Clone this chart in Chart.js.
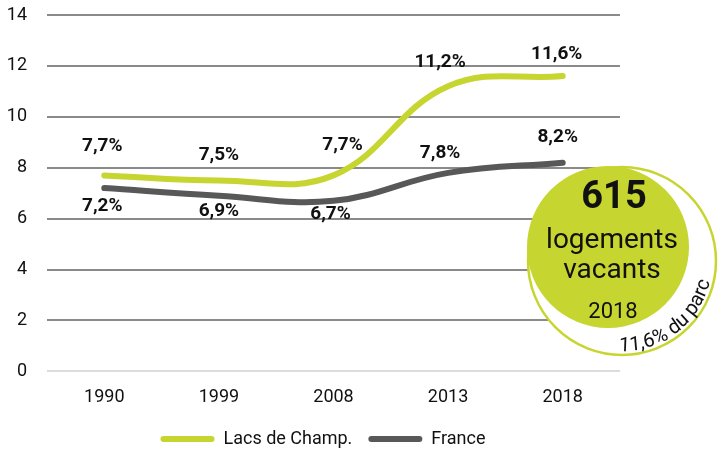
<!DOCTYPE html>
<html>
<head>
<meta charset="utf-8">
<script src="https://cdn.jsdelivr.net/npm/chart.js@4/dist/chart.umd.min.js"></script>
<style>
  html, body { margin: 0; padding: 0; background: #fff; }
  #wrap { width: 718px; height: 450px; }
</style>
</head>
<body>
<div id="wrap"><canvas id="chart"></canvas></div>
<script>
const years = ['1990', '1999', '2008', '2013', '2018'];
const lacsValues = [7.7, 7.5, 7.7, 11.2, 11.6];
const franceValues = [7.2, 6.9, 6.7, 7.8, 8.2];
const yTicks = [0, 2, 4, 6, 8, 10, 12, 14];

const GREEN = '#c6d52f';
const GREY = '#585858';
const FONT = 'Roboto';

// label offsets (px) relative to the point, negative = above
const lacsLabelDy = [-29, -25, -30, -24, -22];
const lacsLabelDx = [-2, 0, 9, -8, -6];
const franceLabelDy = [18, 16, 13, -20, -25];
const franceLabelDx = [-2, 0, -3, -8, -5];

const fmt = v => v.toFixed(1).replace('.', ',') + '%';

const labelsPlugin = {
    id: 'valueLabels',
    afterDatasetsDraw(chart) {
        const ctx = chart.ctx;
        ctx.save();
        ctx.font = 'bold 19px ' + FONT;
        ctx.fillStyle = '#111';
        ctx.textAlign = 'center';
        ctx.textBaseline = 'middle';
        const offs = [[lacsLabelDx, lacsLabelDy], [franceLabelDx, franceLabelDy]];
        chart.data.datasets.forEach((ds, i) => {
            const meta = chart.getDatasetMeta(i);
            meta.data.forEach((pt, j) => {
                ctx.fillText(fmt(ds.data[j]), pt.x + offs[i][0][j], pt.y + offs[i][1][j]);
            });
        });
        ctx.restore();
    }
};

const badgePlugin = {
    id: 'badge',
    afterLayout(chart) {
        // legend sits a little right of the page centre
        chart.legend.left += 13;
        chart.legend.right += 13;
    },
    afterDraw(chart) {
        const ctx = chart.ctx;
        ctx.save();
        // outer ring
        const rx = 622, ry = 261, rr = 94;
        ctx.beginPath();
        ctx.arc(rx, ry, rr, 0, Math.PI * 2);
        ctx.fillStyle = '#fff';
        ctx.fill();
        ctx.lineWidth = 2.5;
        ctx.strokeStyle = GREEN;
        ctx.stroke();
        // green disc
        const cx = 608, cy = 247, cr = 81;
        ctx.beginPath();
        ctx.arc(cx, cy, cr, 0, Math.PI * 2);
        ctx.fillStyle = GREEN;
        ctx.fill();

        ctx.fillStyle = '#111';
        ctx.textAlign = 'center';
        ctx.textBaseline = 'middle';
        ctx.font = 'bold 38px ' + FONT;
        ctx.fillText('615', 614, 198);
        ctx.font = '28px ' + FONT;
        ctx.fillText('logements', 612, 241);
        ctx.fillText('vacants', 612, 271);
        ctx.font = '22px ' + FONT;
        ctx.fillText('2018', 613, 312);

        // curved text along the ring
        const txt = '11,6% du parc';
        ctx.font = '20px ' + FONT;
        ctx.textAlign = 'left';
        ctx.textBaseline = 'alphabetic';
        const r = 90;
        let ang = 92 * Math.PI / 180;
        for (const ch of txt) {
            const w = ctx.measureText(ch).width;
            ctx.save();
            ctx.translate(rx + r * Math.cos(ang), ry + r * Math.sin(ang));
            ctx.rotate(ang - Math.PI / 2);
            ctx.fillText(ch, 0, 0);
            ctx.restore();
            ang -= w / r;
        }
        ctx.restore();
    }
};

new Chart(document.getElementById('chart'), {
    type: 'line',
    data: {
        labels: years,
        datasets: [
            {
                label: 'Lacs de Champ.',
                data: lacsValues,
                borderColor: GREEN,
                backgroundColor: GREEN,
                borderWidth: 6,
                borderCapStyle: 'round',
                tension: 0.4,
                pointRadius: 0
            },
            {
                label: 'France',
                data: franceValues,
                borderColor: GREY,
                backgroundColor: GREY,
                borderWidth: 6,
                borderCapStyle: 'round',
                tension: 0.4,
                pointRadius: 0
            }
        ]
    },
    options: {
        responsive: true,
        maintainAspectRatio: false,
        animation: false,
        layout: { padding: { top: 15, right: 98, left: 0, bottom: -8 } },
        plugins: {
            tooltip: { enabled: false },
            legend: {
                position: 'bottom',
                labels: {
                    boxWidth: 54,
                    boxHeight: 6,
                    useBorderRadius: true,
                    borderRadius: 3,
                    color: '#111',
                    font: { family: FONT, size: 18 },
                    padding: 16,
                    generateLabels(chart) {
                        return chart.data.datasets.map((ds, i) => ({
                            text: ds.label,
                            fillStyle: ds.borderColor,
                            strokeStyle: ds.borderColor,
                            lineWidth: 0,
                            borderRadius: 3,
                            datasetIndex: i,
                            fontColor: '#111'
                        }));
                    }
                }
            }
        },
        scales: {
            x: {
                offset: true,
                grid: { display: false },
                border: { display: false },
                afterFit(scale) { scale.height -= 1; },
                ticks: { color: '#111', font: { family: FONT, size: 18 }, padding: 7 }
            },
            y: {
                min: 0,
                max: 14,
                afterBuildTicks(scale) { scale.ticks = yTicks.map(v => ({ value: v })); },
                afterFit(scale) {
                    scale.width = 47;
                    scale.paddingTop = 0;
                    scale.paddingBottom = 0;
                },
                border: { display: false },
                grid: {
                    drawTicks: false,
                    lineWidth: 2,
                    color: c => (c.tick && c.tick.value === 0 ? '#dcdcdc' : '#8a8a8a')
                },
                ticks: { color: '#111', font: { family: FONT, size: 18 }, padding: 20 }
            }
        }
    },
    plugins: [labelsPlugin, badgePlugin]
});
</script>
</body>
</html>
